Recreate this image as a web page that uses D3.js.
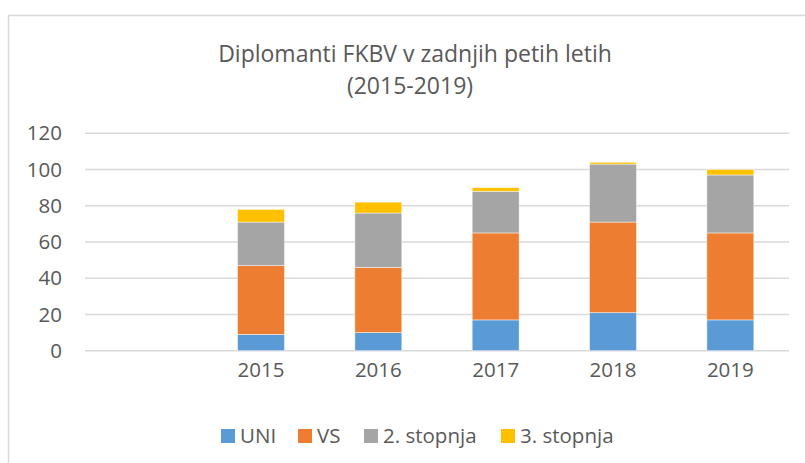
<!DOCTYPE html>
<html>
<head>
<meta charset="utf-8">
<script src="https://cdn.jsdelivr.net/npm/d3@7"></script>
<style>
    body { margin: 0; background: #fff; }
    text { font-family: "Open Sans", sans-serif; fill: #595959; }
</style>
</head>
<body>
<div id="chart"></div>
<script>
// data
const years = ["", "2015", "2016", "2017", "2018", "2019"];
const seriesNames = ["UNI", "VS", "2. stopnja", "3. stopnja"];
const uni = [0, 9, 10, 17, 21, 17];
const vs = [0, 38, 36, 48, 50, 48];
const stopnja2 = [0, 24, 30, 23, 32, 32];
const stopnja3 = [0, 7, 6, 2, 1, 3];
const yTicks = [0, 20, 40, 60, 80, 100, 120];
const colors = ["#5b9bd5", "#ed7d31", "#a5a5a5", "#ffc000"];

const width = 805;
const height = 463;

const svg = d3.select("#chart").append("svg")
    .attr("width", width)
    .attr("height", height);

// outer chart frame (only top and left edges are in view)
svg.append("path")
    .attr("d", "M8.5,463 V15.5 H805")
    .attr("fill", "none")
    .attr("stroke", "#d9d9d9")
    .attr("stroke-width", 1.5);

// title
svg.append("text")
    .attr("x", 415).attr("y", 62)
    .attr("text-anchor", "middle")
    .style("font-size", "23px")
    .text("Diplomanti FKBV v zadnjih petih letih");
svg.append("text")
    .attr("x", 410).attr("y", 94)
    .attr("text-anchor", "middle")
    .style("font-size", "23px")
    .text("(2015-2019)");

const x = d3.scaleBand()
    .domain(years)
    .range([85, 789])
    .paddingInner(0.6)
    .paddingOuter(0.3);

const y = d3.scaleLinear()
    .domain([0, 120])
    .range([350.7, 133.3]);

// gridlines
svg.append("g")
    .selectAll("line")
    .data(yTicks)
    .enter().append("line")
    .attr("x1", 85).attr("x2", 789)
    .attr("y1", d => y(d)).attr("y2", d => y(d))
    .attr("stroke", "#d9d9d9")
    .attr("stroke-width", 1.5);

// y axis labels
const yAxis = svg.append("g")
    .attr("transform", "translate(62,0)")
    .call(d3.axisLeft(y).tickValues(yTicks).tickSize(0).tickPadding(0));
yAxis.select(".domain").remove();
yAxis.selectAll("text")
    .style("font-size", "20.5px")
    .attr("fill", "#595959");

// x axis labels
const xAxis = svg.append("g")
    .attr("transform", "translate(0,362)")
    .call(d3.axisBottom(x).tickSize(0).tickPadding(0));
xAxis.select(".domain").remove();
xAxis.selectAll("text")
    .style("font-size", "20.5px")
    .attr("fill", "#595959");

// stacked bars
const table = years.map((yr, i) => ({
    year: yr,
    "UNI": uni[i],
    "VS": vs[i],
    "2. stopnja": stopnja2[i],
    "3. stopnja": stopnja3[i]
}));
const stacked = d3.stack().keys(seriesNames)(table);

svg.append("g")
    .selectAll("g")
    .data(stacked)
    .enter().append("g")
    .attr("fill", (d, i) => colors[i])
    .selectAll("rect")
    .data(d => d.filter(p => p[1] > p[0]))
    .enter().append("rect")
    .attr("x", d => x(d.data.year))
    .attr("width", x.bandwidth())
    .attr("y", d => y(d[1]))
    .attr("height", d => y(d[0]) - y(d[1]))
    .attr("stroke", "#fff")
    .attr("stroke-opacity", 0.6)
    .attr("stroke-width", 0.75);

// legend
const legendX = [221, 298, 364, 501];
const legend = svg.append("g")
    .selectAll("g")
    .data(seriesNames)
    .enter().append("g")
    .attr("transform", (d, i) => `translate(${legendX[i]},429)`);
legend.append("rect")
    .attr("width", 14).attr("height", 14)
    .attr("fill", (d, i) => colors[i]);
legend.append("text")
    .attr("x", 19).attr("y", 14)
    .style("font-size", "20.5px")
    .text(d => d);
</script>
</body>
</html>
